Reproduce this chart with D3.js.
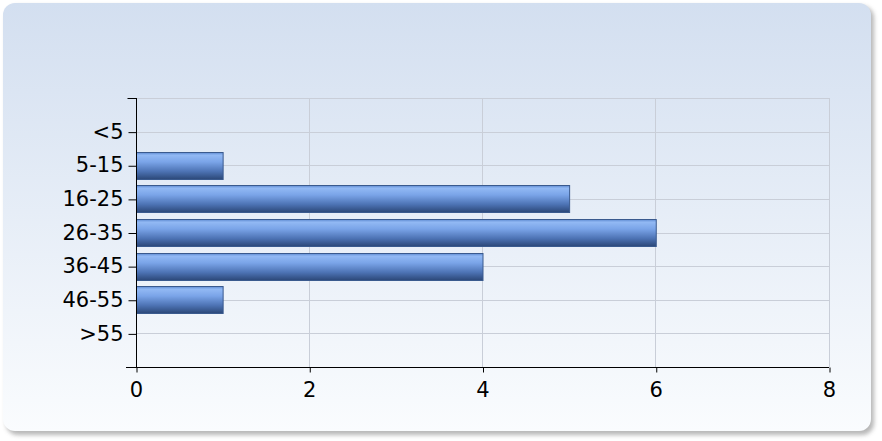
<!DOCTYPE html>
<html><head><meta charset="utf-8">
<script src="https://cdn.jsdelivr.net/npm/d3@7"></script>
<style>html,body{margin:0;padding:0;background:#fff;}svg{display:block;}</style>
</head><body>
<script>
const categories = ["<5","5-15","16-25","26-35","36-45","46-55",">55"];
const values = [0,1,5,6,4,1,0];
const xTicks = [0,2,4,6,8];

const W = 882, H = 441;
const svg = d3.select("body").append("svg").attr("width", W).attr("height", H);
const defs = svg.append("defs");

const bg = defs.append("linearGradient").attr("id","bg").attr("x1",0).attr("y1",0).attr("x2",0).attr("y2",1);
bg.append("stop").attr("offset","0%").attr("stop-color","#d3dff0");
bg.append("stop").attr("offset","100%").attr("stop-color","#fafcfe");

const bar = defs.append("linearGradient").attr("id","bar").attr("x1",0).attr("y1",0).attr("x2",0).attr("y2",1);
[["0%","#5f8bd2"],["10%","#92b9f4"],["35%","#7aa4e8"],["70%","#4d73b4"],["100%","#2b4777"]]
  .forEach(s => bar.append("stop").attr("offset",s[0]).attr("stop-color",s[1]));

const blur = defs.append("filter").attr("id","sh").attr("x","-5%").attr("y","-5%").attr("width","110%").attr("height","110%");
blur.append("feGaussianBlur").attr("stdDeviation",2);

// shadow + panel
svg.append("rect").attr("x",6).attr("y",6).attr("width",868).attr("height",429).attr("rx",12)
  .attr("fill","#9a9a9a").attr("opacity",0.7).attr("filter","url(#sh)");
svg.append("rect").attr("x",3).attr("y",3).attr("width",868).attr("height",428).attr("rx",12)
  .attr("fill","url(#bg)");

const x = d3.scaleLinear().domain([0,8]).range([136,829]);
const y = d3.scalePoint().domain(categories).range([98,367]).padding(1);

const g = svg.append("g");
// grid
g.selectAll("line.vg").data(xTicks.slice(1)).join("line")
  .attr("x1",d=>x(d)).attr("x2",d=>x(d)).attr("y1",98).attr("y2",367)
  .attr("stroke","#c9ced8").attr("stroke-width",1).attr("shape-rendering","crispEdges");
g.selectAll("line.hg").data(categories).join("line")
  .attr("x1",136).attr("x2",829).attr("y1",d=>Math.round(y(d))+0.5).attr("y2",d=>Math.round(y(d))+0.5)
  .attr("stroke","#c9ced8").attr("stroke-width",1);
g.append("line").attr("x1",136).attr("x2",829.5).attr("y1",98.5).attr("y2",98.5)
  .attr("stroke","#c9ced8");

// bars
const bh = 27;
g.selectAll("rect.bar").data(values.map((v,i)=>({c:categories[i],v})).filter(d=>d.v>0)).join("rect")
  .attr("x",x(0)+0.5).attr("y",d=>Math.round(y(d.c)-bh/2)+0.5)
  .attr("width",d=>x(d.v)-x(0)).attr("height",bh)
  .attr("fill","url(#bar)").attr("stroke","#3a5a8e").attr("stroke-width",1);

// axes
const font = "'DejaVu Sans', Verdana, sans-serif";
const yAxis = g.append("g").attr("transform","translate(136.5,0)")
  .call(d3.axisLeft(y).tickSize(8).tickPadding(5));
yAxis.attr("font-family",font).attr("font-size",21);
yAxis.select(".domain").attr("d","M0,98V367");
yAxis.selectAll("text").attr("fill","#000").style("font-size","21px").style("font-family",font);
yAxis.append("line").attr("x1",-9).attr("x2",0).attr("y1",98.5).attr("y2",98.5).attr("stroke","#000");
yAxis.selectAll(".tick line").attr("transform","translate(0,0.5)");

const xAxis = g.append("g").attr("transform","translate(0,367.5)")
  .call(d3.axisBottom(x).tickValues(xTicks).tickSize(5).tickPadding(10).tickFormat(d3.format("d")));
xAxis.attr("font-family",font).attr("font-size",21);
xAxis.select(".domain").attr("d","M126,0H829");
xAxis.selectAll(".tick line").attr("transform","translate(0.5,0)");
xAxis.selectAll("text").attr("fill","#000").style("font-size","21px").style("font-family",font);
</script>
</body></html>
